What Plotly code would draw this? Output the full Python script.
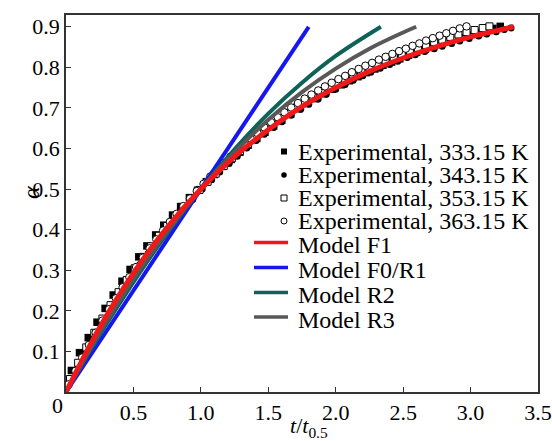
import plotly.graph_objects as go

# ---- experimental conversion data (t / t0.5 vs. alpha) ----
t_333 = [0.04, 0.10, 0.165, 0.23, 0.29, 0.35, 0.415, 0.475, 0.54, 0.60, 0.665, 0.725, 0.79, 0.85,
         0.915, 0.975, 1.04, 1.10, 1.165, 1.225, 1.29, 1.35, 1.415, 1.475, 1.54, 1.60, 1.665, 1.725,
         1.79, 1.85, 1.915, 1.975, 2.04, 2.10, 2.165, 2.225, 2.29, 2.35, 2.415, 2.475, 2.54, 2.60,
         2.665, 2.725, 2.79, 2.85, 2.915, 2.975, 3.04, 3.10, 3.165, 3.22]
a_333 = [0.053, 0.097, 0.134, 0.172, 0.206, 0.239, 0.273, 0.302, 0.333, 0.360, 0.387, 0.411, 0.436, 0.457,
         0.479, 0.497, 0.518, 0.536, 0.556, 0.573, 0.591, 0.608, 0.625, 0.640, 0.656, 0.670, 0.685, 0.698,
         0.711, 0.723, 0.735, 0.746, 0.757, 0.767, 0.777, 0.787, 0.796, 0.805, 0.813, 0.821, 0.830, 0.837,
         0.845, 0.852, 0.859, 0.866, 0.873, 0.879, 0.885, 0.890, 0.896, 0.901]

t_343 = [0.02, 0.09, 0.15, 0.22, 0.28, 0.35, 0.42, 0.48, 0.55, 0.61, 0.68, 0.75, 0.81, 0.88, 0.94,
         1.01, 1.08, 1.14, 1.21, 1.27, 1.34, 1.41, 1.47, 1.54, 1.60, 1.67, 1.74, 1.80, 1.87, 1.93,
         2.00, 2.07, 2.13, 2.20, 2.26, 2.33, 2.40, 2.46, 2.53, 2.59, 2.66, 2.73, 2.79, 2.86, 2.92,
         2.99, 3.06, 3.12, 3.19, 3.25, 3.30]
a_343 = [0.018, 0.064, 0.101, 0.142, 0.176, 0.214, 0.251, 0.281, 0.315, 0.342, 0.373, 0.402, 0.426, 0.453, 0.475,
         0.500, 0.523, 0.542, 0.563, 0.581, 0.601, 0.620, 0.635, 0.652, 0.666, 0.682, 0.697, 0.709, 0.722, 0.734,
         0.746, 0.758, 0.768, 0.779, 0.788, 0.798, 0.807, 0.815, 0.824, 0.831, 0.839, 0.846, 0.852, 0.859, 0.865,
         0.871, 0.877, 0.882, 0.888, 0.893, 0.897]

t_353 = [0.03, 0.09, 0.15, 0.21, 0.27, 0.33, 0.39, 0.45, 0.51, 0.57, 0.63, 0.69, 0.75, 0.81, 0.87, 0.93,
         0.99, 1.05, 1.11, 1.17, 1.23, 1.29, 1.35, 1.41, 1.47, 1.53, 1.59, 1.65, 1.71, 1.77, 1.83, 1.89,
         1.95, 2.01, 2.07, 2.13, 2.19, 2.25, 2.31, 2.37, 2.43, 2.49, 2.55, 2.61, 2.67, 2.73, 2.79, 2.85,
         2.91, 2.97, 3.03, 3.09, 3.14]
a_353 = [0.032, 0.072, 0.110, 0.146, 0.181, 0.214, 0.246, 0.276, 0.305, 0.333, 0.359, 0.385, 0.409, 0.433, 0.455, 0.477,
         0.498, 0.518, 0.538, 0.557, 0.576, 0.594, 0.611, 0.628, 0.644, 0.659, 0.674, 0.688, 0.701, 0.714, 0.726, 0.738,
         0.749, 0.760, 0.770, 0.780, 0.790, 0.799, 0.808, 0.817, 0.825, 0.833, 0.841, 0.848, 0.855, 0.862, 0.868, 0.875,
         0.881, 0.887, 0.892, 0.897, 0.901]

t_363 = [0.02, 0.07, 0.12, 0.17, 0.22, 0.27, 0.32, 0.37, 0.42, 0.47, 0.52, 0.57, 0.62, 0.67, 0.72, 0.77,
         0.82, 0.87, 0.92, 0.97, 1.02, 1.07, 1.12, 1.17, 1.22, 1.27, 1.32, 1.37, 1.42, 1.47, 1.52, 1.57,
         1.62, 1.67, 1.72, 1.77, 1.82, 1.87, 1.92, 1.97, 2.02, 2.07, 2.12, 2.17, 2.22, 2.27, 2.32, 2.37,
         2.42, 2.47, 2.52, 2.57, 2.62, 2.67, 2.72, 2.77, 2.82, 2.87, 2.92, 2.97]
a_363 = [0.019, 0.052, 0.085, 0.116, 0.146, 0.176, 0.204, 0.231, 0.258, 0.283, 0.308, 0.331, 0.354, 0.376, 0.398, 0.419,
         0.439, 0.458, 0.477, 0.495, 0.513, 0.531, 0.548, 0.564, 0.580, 0.595, 0.610, 0.624, 0.638, 0.652, 0.665, 0.677,
         0.689, 0.701, 0.712, 0.723, 0.733, 0.743, 0.753, 0.762, 0.771, 0.779, 0.788, 0.796, 0.804, 0.811, 0.819, 0.826,
         0.833, 0.840, 0.846, 0.853, 0.859, 0.866, 0.872, 0.878, 0.884, 0.890, 0.896, 0.901]

# ---- kinetic model curves ----
t_F1 = [0, 0.25, 0.5, 0.75, 1.0, 1.25, 1.5, 1.75, 2.0, 2.25, 2.5, 2.75, 3.0, 3.32]
a_F1 = [0, 0.159, 0.293, 0.405, 0.5, 0.580, 0.646, 0.703, 0.75, 0.790, 0.823, 0.851, 0.875, 0.9]

t_F0 = [0, 1.8]
a_F0 = [0, 0.9]

t_R2 = [0, 0.25, 0.5, 0.75, 1.0, 1.25, 1.5, 1.75, 2.0, 2.335]
a_R2 = [0, 0.141, 0.271, 0.391, 0.5, 0.598, 0.686, 0.762, 0.828, 0.9]

t_R3 = [0, 0.25, 0.5, 0.75, 1.0, 1.25, 1.5, 1.75, 2.0, 2.25, 2.5, 2.597]
a_R3 = [0, 0.147, 0.279, 0.396, 0.5, 0.591, 0.671, 0.739, 0.797, 0.846, 0.886, 0.9]

x_ticks = [0.5, 1.0, 1.5, 2.0, 2.5, 3.0, 3.5]
y_ticks = [0.1, 0.2, 0.3, 0.4, 0.5, 0.6, 0.7, 0.8, 0.9]

exp_labels = ["Experimental, 333.15 K", "Experimental, 343.15 K",
              "Experimental, 353.15 K", "Experimental, 363.15 K"]
model_labels = ["Model F1", "Model F0/R1", "Model R2", "Model R3"]

SERIF = "Liberation Serif"
RED, BLUE, GREEN, GREY = "#f01818", "#1616f0", "#0f6258", "#585858"

fig = go.Figure()

# experimental points
fig.add_trace(go.Scatter(x=t_333, y=a_333, mode="markers",
                         marker=dict(symbol="square", size=7.5, color="black")))
fig.add_trace(go.Scatter(x=t_343, y=a_343, mode="markers",
                         marker=dict(symbol="circle", size=7, color="black")))
fig.add_trace(go.Scatter(x=t_353, y=a_353, mode="markers",
                         marker=dict(symbol="square", size=7, color="white",
                                     line=dict(color="black", width=1))))
fig.add_trace(go.Scatter(x=t_363, y=a_363, mode="markers",
                         marker=dict(symbol="circle", size=7.5, color="white",
                                     line=dict(color="black", width=1))))

# model lines
fig.add_trace(go.Scatter(x=t_F0, y=a_F0, mode="lines", line=dict(color=BLUE, width=4)))
fig.add_trace(go.Scatter(x=t_R2, y=a_R2, mode="lines", line=dict(color=GREEN, width=4, shape="spline")))
fig.add_trace(go.Scatter(x=t_R3, y=a_R3, mode="lines", line=dict(color=GREY, width=4, shape="spline")))
fig.add_trace(go.Scatter(x=t_F1, y=a_F1, mode="lines", line=dict(color=RED, width=5, shape="spline")))

# legend block drawn on a pixel-scaled overlay axis
PX_L, PX_R, PX_T, PX_B = 66, 538, 15, 392
row_y = [151.5, 175, 198, 221, 244, 269, 294, 318.5]
mark_x = 284
text_x = 296
line_x0, line_x1 = 254, 288

leg_marks = [dict(symbol="square", size=6, color="black"),
             dict(symbol="circle", size=5.5, color="black"),
             dict(symbol="square", size=6, color="white", line=dict(color="black", width=1)),
             dict(symbol="circle", size=6, color="white", line=dict(color="black", width=1))]
for i, mk in enumerate(leg_marks):
    fig.add_trace(go.Scatter(x=[mark_x], y=[row_y[i]], mode="markers", marker=mk,
                             xaxis="x2", yaxis="y2"))

annotations = []
for i, lab in enumerate(exp_labels):
    annotations.append(dict(x=text_x, y=row_y[i], xref="x2", yref="y2", text=lab,
                            showarrow=False, xanchor="left", yanchor="middle",
                            font=dict(family=SERIF, size=24, color="black")))
shapes = []
for j, (lab, col) in enumerate(zip(model_labels, [RED, BLUE, GREEN, GREY])):
    yy = row_y[4 + j]
    shapes.append(dict(type="line", xref="x2", yref="y2", x0=line_x0, x1=line_x1,
                       y0=yy - 1.5, y1=yy - 1.5, line=dict(color=col, width=3.5)))
    annotations.append(dict(x=text_x, y=yy + 1, xref="x2", yref="y2", text=lab,
                            showarrow=False, xanchor="left", yanchor="middle",
                            font=dict(family=SERIF, size=24, color="black")))

W, H = 552, 441
pw, ph = PX_R - PX_L, PX_B - PX_T
# axis titles and shared origin label
annotations.append(dict(x=(16 - PX_L) / pw, y=(PX_B - 193) / ph, xref="paper", yref="paper",
                        text="<i>α</i>", textangle=-90, showarrow=False,
                        font=dict(family=SERIF, size=24, color="black")))
annotations.append(dict(x=(309 - PX_L) / pw, y=(PX_B - 427) / ph, xref="paper", yref="paper",
                        text="<i>t</i>/<i>t</i><sub>0.5</sub>", showarrow=False,
                        yanchor="middle", font=dict(family=SERIF, size=22, color="black")))
annotations.append(dict(x=(57.5 - PX_L) / pw, y=(PX_B - 405) / ph, xref="paper", yref="paper",
                        text="0", showarrow=False, xanchor="center", yanchor="middle",
                        font=dict(family=SERIF, size=22, color="black")))

fig.update_layout(
    width=W, height=H,
    margin=dict(l=PX_L, r=W - PX_R, t=PX_T, b=H - PX_B, pad=0),
    paper_bgcolor="white", plot_bgcolor="white",
    showlegend=False,
    font=dict(family=SERIF, size=22, color="black"),
    annotations=annotations,
    shapes=shapes,
    xaxis=dict(range=[0, 3.5], tickvals=x_ticks, ticktext=[f"{v:.1f}" for v in x_ticks],
               ticks="inside", ticklen=5, tickwidth=1.3, tickcolor="#333", automargin=False,
               showline=True, linecolor="#333", linewidth=1.6, mirror=True,
               showgrid=False, zeroline=False, tickfont=dict(family=SERIF, size=22)),
    yaxis=dict(range=[0, 0.929], tickvals=y_ticks, ticktext=[f"{v:.1f}" for v in y_ticks],
               ticks="inside", ticklen=5, tickwidth=1.3, tickcolor="#333", automargin=False,
               showline=True, linecolor="#333", linewidth=1.6, mirror=True,
               showgrid=False, zeroline=False, tickfont=dict(family=SERIF, size=22)),
    xaxis2=dict(overlaying="x", range=[PX_L, PX_R], visible=False),
    yaxis2=dict(overlaying="y", range=[PX_B, PX_T], visible=False),
)

fig.write_html("out.html")
